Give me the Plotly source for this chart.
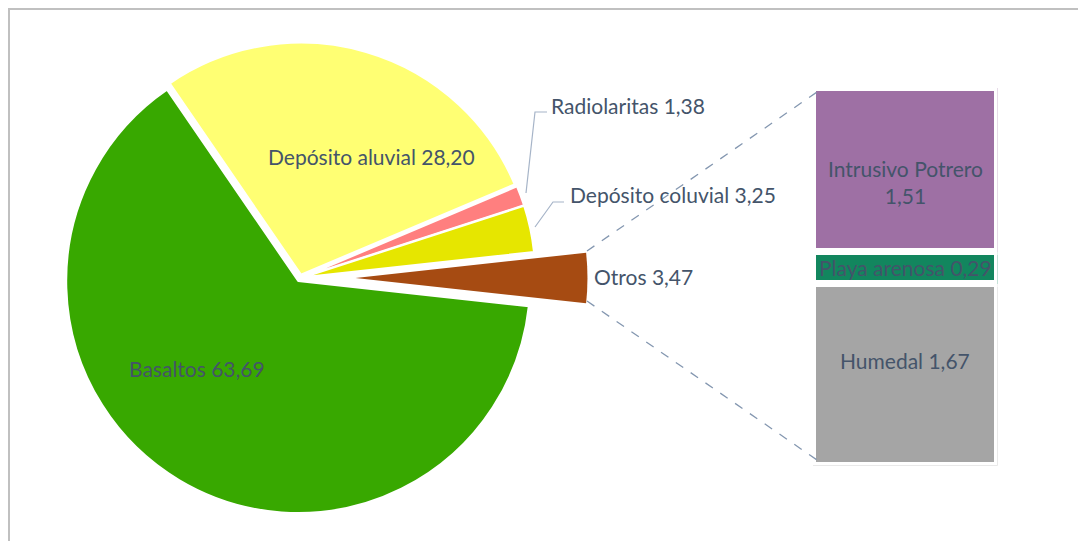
import plotly.graph_objects as go

# ---- data ----
pie_labels = ["Depósito aluvial", "Radiolaritas", "Depósito coluvial", "Otros", "Basaltos"]
pie_values = [28.20, 1.38, 3.25, 3.47, 63.69]
pie_colors = ["#FFFF73", "#FF7F7F", "#E6E600", "#A64B12", "#38A800"]

bar_labels = ["Humedal", "Playa arenosa", "Intrusivo Potrero"]
bar_values = [1.67, 0.29, 1.51]
bar_colors = ["#A5A5A5", "#12865E", "#9E70A4"]

W, H = 1086, 541
OFF = 8  # page body margin
TXT = "#44546A"
FONT = "Lato, sans-serif"
FS = 21


def fmt(v):
    return f"{v:.2f}".replace(".", ",")


def px(x):
    return (x - OFF) / W


def py(y):
    return 1 - (y - OFF) / H


total = sum(pie_values)
oi = pie_labels.index("Otros")
start_frac = (pie_values[oi] / 2 + sum(pie_values[:oi])) / total
rotation = 90 - start_frac * 360

cx, cy, R = 300, 278, 232  # page coords
pull = 0.015
side = 2 * R * (1 + pull)
shift = 52


def dom(cxp, cyp):
    return dict(x=[px(cxp - side / 2), px(cxp + side / 2)],
                y=[py(cyp + side / 2), py(cyp - side / 2)])


fig = go.Figure()
c1 = [c if l != "Otros" else "rgba(0,0,0,0)" for l, c in zip(pie_labels, pie_colors)]
w1 = [2 if l != "Otros" else 0 for l in pie_labels]
fig.add_trace(go.Pie(labels=pie_labels, values=pie_values, sort=False, direction="clockwise",
                     rotation=rotation, pull=pull, domain=dom(cx, cy),
                     marker=dict(colors=c1, line=dict(color="white", width=w1)),
                     textinfo="none", hoverinfo="label+value", showlegend=False))
c2 = [c if l == "Otros" else "rgba(0,0,0,0)" for l, c in zip(pie_labels, pie_colors)]
fig.add_trace(go.Pie(labels=pie_labels, values=pie_values, sort=False, direction="clockwise",
                     rotation=rotation, pull=pull, domain=dom(cx + shift, cy),
                     marker=dict(colors=c2, line=dict(color="white", width=0)),
                     textinfo="none", hoverinfo="skip", showlegend=False))

# stacked bar
for lab, val, col in zip(bar_labels, bar_values, bar_colors):
    fig.add_trace(go.Bar(x=[0], y=[val], width=1, marker=dict(color=col, line=dict(color="white", width=7)),
                         showlegend=False, hoverinfo="skip"))

lw = 3.5
fig.update_layout(
    width=W, height=H, margin=dict(l=0, r=0, t=0, b=0),
    paper_bgcolor="white", plot_bgcolor="white", barmode="stack",
    xaxis=dict(domain=[px(816 - lw), px(994 + lw)], range=[-0.5, 0.5], visible=False, fixedrange=True),
    yaxis=dict(domain=[py(462 + lw), py(91 - lw)], range=[0, sum(bar_values)], visible=False, fixedrange=True),
)

shapes = [
    dict(type="rect", xref="paper", yref="paper", x0=1 / W, x1=1.05, y0=-0.05, y1=1 - 1 / H,
         line=dict(color="#C0C0C0", width=2), layer="below"),
    dict(type="line", xref="paper", yref="paper", x0=px(587), y0=py(251), x1=px(817), y1=py(92),
         line=dict(color="#8497B0", width=1.3, dash="dash")),
    dict(type="line", xref="paper", yref="paper", x0=px(587), y0=py(301), x1=px(817), y1=py(460),
         line=dict(color="#8497B0", width=1.3, dash="dash")),
    dict(type="path", xref="paper", yref="paper",
         path=f"M {px(526)},{py(193)} L {px(535)},{py(112)} L {px(547)},{py(112)}",
         line=dict(color="#A6B4C8", width=1.2)),
    dict(type="path", xref="paper", yref="paper",
         path=f"M {px(535)},{py(227)} L {px(553)},{py(202)} L {px(564)},{py(202)}",
         line=dict(color="#A6B4C8", width=1.2)),
]
fig.update_layout(shapes=shapes)


def lab(i):
    return f"{pie_labels[i]} {fmt(pie_values[i])}"


annots = [
    (lab(0), 371, 157, "center"),
    (lab(4), 197, 368, "center"),
    (lab(1), 549, 106, "left"),
    (lab(2), 568, 195, "left"),
    (lab(3), 592, 276, "left"),
]
for t, x, y, anc in annots:
    fig.add_annotation(text=t, x=px(x), y=py(y), xref="paper", yref="paper", showarrow=False,
                       xanchor=anc, yanchor="middle", font=dict(family=FONT, size=FS, color=TXT))

# bar labels at segment midpoints (data coords)
base = 0
yshifts = {"Humedal": 14, "Playa arenosa": 0, "Intrusivo Potrero": -12}
for lab_, val in zip(bar_labels, bar_values):
    t = f"{lab_}<br>{fmt(val)}" if lab_ == "Intrusivo Potrero" else f"{lab_} {fmt(val)}"
    fig.add_annotation(text=t, x=0, y=base + val / 2, xref="x", yref="y", showarrow=False,
                       yshift=yshifts[lab_], font=dict(family=FONT, size=FS, color=TXT))
    base += val

fig.write_html("out.html")
